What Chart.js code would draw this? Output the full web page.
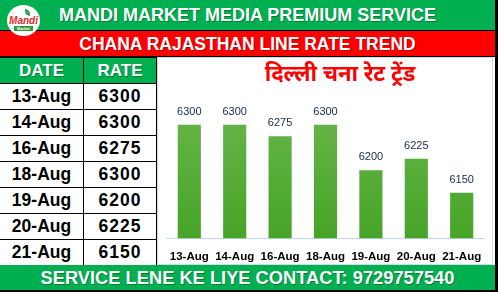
<!DOCTYPE html>
<html>
<head>
<meta charset="utf-8">
<script src="https://cdn.jsdelivr.net/npm/chart.js@4.4.0/dist/chart.umd.min.js"></script>
<style>
  body { margin: 0; width: 498px; height: 292px; background: #fff; position: relative; overflow: hidden;
         font-family: Arial, "Liberation Sans", sans-serif; }
  .bar { position: absolute; left: 0; width: 495px; color: #fff; font-weight: bold; text-align: center;
         text-shadow: 1px 1px 0 rgba(0,0,0,0.3); }
  #head { top: 0; height: 30px; line-height: 31px; background: #00b050; font-size: 18px; }
  #sub { top: 31px; height: 26px; line-height: 27px; background: #ff0000; font-size: 17.5px; }
  #foot { top: 265px; height: 25px; line-height: 26px; background: #00b050; font-size: 18.3px; }
  #rightEdge { position: absolute; left: 495px; width: 3px; top: 0; height: 292px; background: #000; }
  #bottomEdge { position: absolute; left: 0; top: 290px; width: 498px; height: 2px; background: #000; }
  #line1 { position: absolute; left: 0; top: 30px; width: 495px; height: 1px; background: #000; }
  #line2 { position: absolute; left: 0; top: 56px; width: 495px; height: 1px; background: #000; }
  #logo { position: absolute; left: 7px; top: 5px; width: 33px; height: 31px; border-radius: 50%; background: #fff; }
  #logo .m { position: absolute; left: 0; width: 33px; top: 11px; text-align: center; color: #e32b2b;
             font-weight: bold; font-style: italic; font-size: 10px; line-height: 10px; }
  #logo .k { position: absolute; left: 7px; width: 19px; top: 21px; height: 5px; background: #2f9a3c; color: #fff;
             font-size: 4px; line-height: 5px; text-align: center; font-weight: bold; }
  #logo .leaf { position: absolute; left: 18px; top: 4px; width: 5px; height: 7px; background: #3aa34a;
                border-radius: 0 5px 0 5px; }
  table { position: absolute; left: 0; top: 57px; border-collapse: collapse; }
  td, th { border: 1px solid #000; padding: 0; height: 25px; text-align: center; font-weight: bold; }
  td:first-child, th:first-child { border-left: none; }
  th { background: #00b050; color: #fff; font-size: 17px; text-shadow: 1px 1px 0 rgba(0,0,0,0.3); }
  td { background: #fff; color: #000; font-size: 17.5px; }
  td.r { letter-spacing: 1px; }
  #chartBox { position: absolute; left: 157px; top: 57px; width: 336px; height: 208px;
              border: 1px solid #c9dcef; box-sizing: border-box; }
  #chartTitle { position: absolute; left: 230px; width: 220px; top: 61px; text-align: center; color: #ff0000;
                font-weight: bold; font-size: 22px; font-family: "Noto Sans Devanagari", "Noto Sans", sans-serif; }
  #chartWrap { position: absolute; left: 158px; top: 58px; width: 335px; height: 219px; }
</style>
</head>
<body>
<div id="head" class="bar">MANDI MARKET MEDIA PREMIUM SERVICE</div>
<div id="line1"></div>
<div id="sub" class="bar">CHANA RAJASTHAN LINE RATE TREND</div>
<div id="line2"></div>
<div id="logo"><div class="leaf"></div><div class="m">Mandi</div><div class="k">Market</div></div>
<table id="tbl">
  <tr><th style="width:83px">DATE</th><th style="width:72px">RATE</th></tr>
</table>
<div id="chartBox"></div>
<div id="chartWrap"><canvas id="chart" width="335" height="219"></canvas></div>
<div id="chartTitle"></div>
<div id="foot" class="bar">SERVICE LENE KE LIYE CONTACT: 9729757540</div>
<div id="rightEdge"></div>
<div id="bottomEdge"></div>
<script>
// chart data
const dates = ['13-Aug', '14-Aug', '16-Aug', '18-Aug', '19-Aug', '20-Aug', '21-Aug'];
const rates = [6300, 6300, 6275, 6300, 6200, 6225, 6150];
const chartTitle = 'दिल्ली चना रेट ट्रेंड';
const yMin = 6050;
const yMax = 6368;

// fill the side table
const tbl = document.getElementById('tbl');
dates.forEach((d, i) => {
    let tr = document.createElement('tr');
    tr.innerHTML = '<td>' + d + '</td><td class="r">' + rates[i] + '</td>';
    tbl.appendChild(tr);
});
document.getElementById('chartTitle').textContent = chartTitle;

// value labels above the bars
const valueLabels = {
    id: 'valueLabels',
    afterDatasetsDraw(chart) {
        const c = chart.ctx;
        c.save();
        c.font = '11px Arial';
        c.fillStyle = '#18294a';
        c.textAlign = 'center';
        c.textBaseline = 'middle';
        chart.getDatasetMeta(0).data.forEach((bar, i) => {
            c.fillText(rates[i], bar.x, bar.y - 13);
        });
        c.restore();
    }
};

let ctx = document.getElementById('chart').getContext('2d');
let myChart = new Chart(ctx, {
    type: 'bar',
    data: {
        labels: dates,
        datasets: [{
            data: rates,
            backgroundColor: (context) => {
                const area = context.chart.chartArea;
                if (!area) return '#5aae3a';
                const g = context.chart.ctx.createLinearGradient(0, area.top, 0, area.bottom);
                g.addColorStop(0, '#6ab74d');
                g.addColorStop(1, '#47a428');
                return g;
            },
            categoryPercentage: 1,
            barPercentage: 0.51
        }]
    },
    options: {
        responsive: false,
        animation: false,
        layout: { padding: { left: 3, right: 3, top: 36, bottom: 1 } },
        plugins: {
            legend: { display: false },
            tooltip: { enabled: false }
        },
        scales: {
            x: {
                grid: { display: false, drawTicks: false },
                border: { color: '#bdd7ee' },
                ticks: { color: '#000', padding: 12, font: { family: 'Arial', size: 11.5, weight: 'bold' } }
            },
            y: { display: false, min: yMin, max: yMax }
        }
    },
    plugins: [valueLabels]
});
</script>
</body>
</html>
